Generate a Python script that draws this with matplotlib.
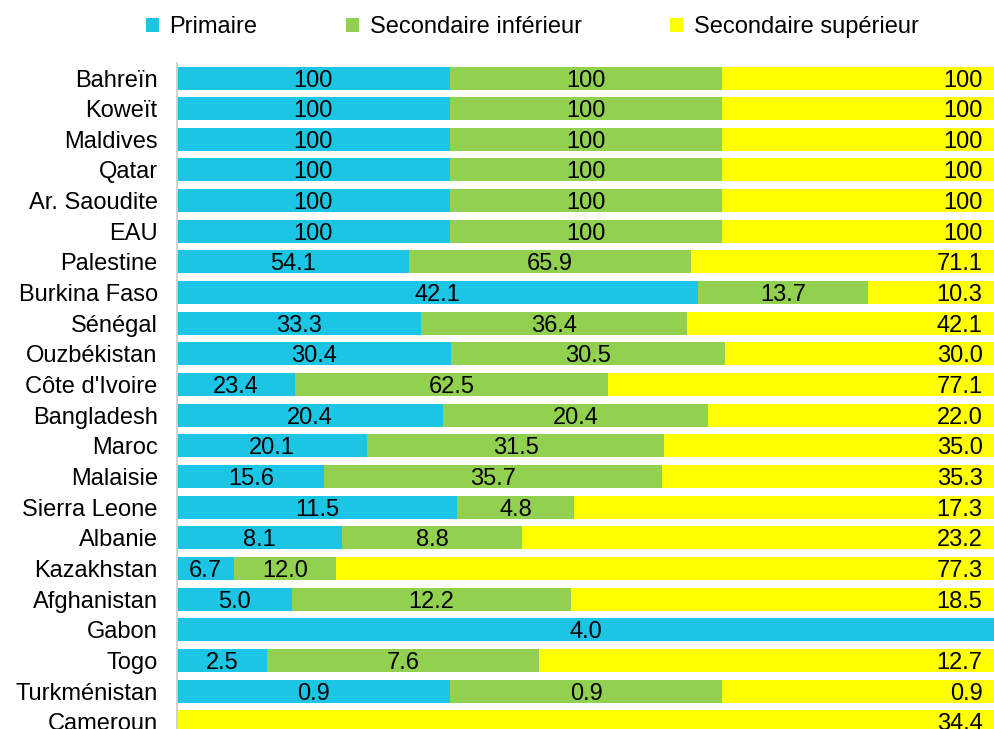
import numpy as np
import matplotlib.pyplot as plt
from matplotlib.patches import Patch

nan = np.nan

pays = ["Bahreïn", "Koweït", "Maldives", "Qatar", "Ar. Saoudite", "EAU",
        "Palestine", "Burkina Faso", "Sénégal", "Ouzbékistan", "Côte d'Ivoire",
        "Bangladesh", "Maroc", "Malaisie", "Sierra Leone", "Albanie",
        "Kazakhstan", "Afghanistan", "Gabon", "Togo", "Turkménistan", "Cameroun"]

primaire = [100, 100, 100, 100, 100, 100, 54.1, 42.1, 33.3, 30.4, 23.4,
            20.4, 20.1, 15.6, 11.5, 8.1, 6.7, 5.0, 4.0, 2.5, 0.9, nan]
sec_inf = [100, 100, 100, 100, 100, 100, 65.9, 13.7, 36.4, 30.5, 62.5,
           20.4, 31.5, 35.7, 4.8, 8.8, 12.0, 12.2, nan, 7.6, 0.9, nan]
sec_sup = [100, 100, 100, 100, 100, 100, 71.1, 10.3, 42.1, 30.0, 77.1,
           22.0, 35.0, 35.3, 17.3, 23.2, 77.3, 18.5, nan, 12.7, 0.9, 34.4]

series = ["Primaire", "Secondaire inférieur", "Secondaire supérieur"]
couleurs = ["#1DC5E5", "#92D050", "#FFFF00"]

plt.rcParams['font.family'] = ['Liberation Sans', 'DejaVu Sans']


def fmt(v):
    if v == 100:
        return "100"
    return "%.1f" % v


def main():
    data = np.array([primaire, sec_inf, sec_sup], dtype=float)
    vals = np.nan_to_num(data)
    totaux = vals.sum(axis=0)
    parts = vals / totaux

    fig = plt.figure(figsize=(9.95, 7.29), dpi=100)
    ax = fig.add_axes([0.178, -0.011, 0.822, 0.925])

    y = np.arange(len(pays))
    gauche = np.zeros(len(pays))
    for k in range(3):
        ax.barh(y, parts[k], left=gauche, height=0.75, color=couleurs[k],
                edgecolor='none')
        for i in range(len(pays)):
            v = data[k, i]
            if np.isnan(v):
                continue
            if k < 2:
                ax.text(gauche[i] + parts[k, i] / 2, y[i], fmt(v),
                        ha='center', va='center_baseline', fontsize=17)
            else:
                ax.annotate(fmt(v), (gauche[i] + parts[k, i], y[i]),
                            xytext=(-9, 0), textcoords='offset points',
                            ha='right', va='center_baseline', fontsize=17)
        gauche = gauche + parts[k]

    ax.set_xlim(0, 1)
    ax.set_ylim(len(pays) - 0.5, -0.5)
    ax.set_yticks(y)
    ax.set_yticklabels(pays, fontsize=17)
    ax.tick_params(axis='y', length=0, pad=14)
    ax.set_xticks([])
    for s in ['top', 'right', 'bottom']:
        ax.spines[s].set_visible(False)
    ax.spines['left'].set_color('#D0D0D0')
    ax.spines['left'].set_linewidth(1.3)

    handles = [Patch(facecolor=c, edgecolor='none') for c in couleurs]
    fig.legend(handles, series, loc='center', bbox_to_anchor=(0.535, 0.963),
               ncol=3, frameon=False, fontsize=17, handlelength=0.55,
               handleheight=0.55, handletextpad=0.45, columnspacing=3.75)

    fig.savefig('out.png', dpi=100)


if __name__ == '__main__':
    main()
